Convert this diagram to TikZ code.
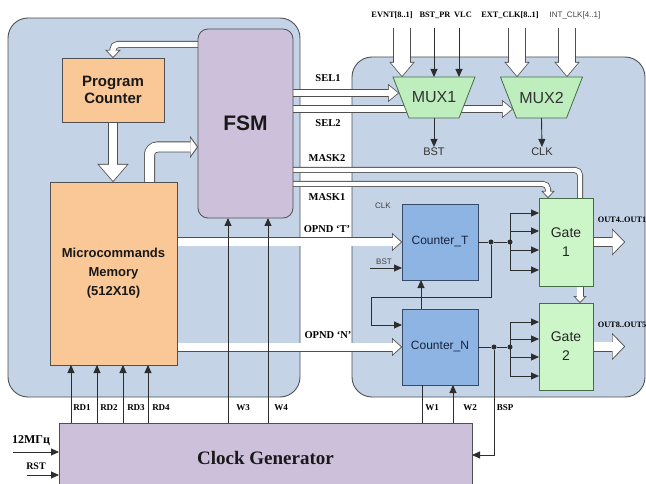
\documentclass[tikz,border=0pt]{standalone}
\usepackage{fontspec}
\setmainfont{Liberation Serif}
\newfontfamily\arialf{Liberation Sans}
\usetikzlibrary{arrows.meta,calc}
\definecolor{panelc}{RGB}{196,211,230}
\definecolor{orangec}{RGB}{250,200,150}
\definecolor{lavc}{RGB}{204,192,218}
\definecolor{bluec}{RGB}{141,180,226}
\definecolor{greenc}{RGB}{204,246,200}
\definecolor{muxc}{RGB}{190,238,190}
\definecolor{edgec}{RGB}{80,80,80}
\definecolor{linec}{RGB}{45,45,45}
\definecolor{cntedge}{RGB}{55,75,105}
\definecolor{gateedge}{RGB}{70,110,70}
\definecolor{cnttext}{RGB}{25,35,65}
\pgfdeclarelayer{bg}
\pgfdeclarelayer{buses}
\pgfdeclarelayer{shapes}
\pgfsetlayers{bg,buses,shapes,main}
\tikzset{
  panel/.style={draw=edgec, line width=0.9pt, fill=panelc, rounded corners=20pt},
  box/.style={draw=edgec, line width=0.8pt, inner sep=0pt, outer sep=0pt, align=center, text=black!90},
  cnt/.style={box, draw=cntedge, fill=bluec, minimum width=76pt, minimum height=76pt, text=cnttext, font=\arialf\fontsize{12}{14}\selectfont},
  gate/.style={box, draw=gateedge, fill=greenc, minimum width=54pt, text=black!85, font=\arialf\fontsize{14}{19}\selectfont},
  muxt/.style={inner sep=0pt, outer sep=0pt, minimum width=82pt, minimum height=41pt, text=black!80, font=\arialf\fontsize{16}{18}\selectfont},
  muxs/.style={draw=gateedge, line width=0.8pt, fill=muxc},
  lbl/.style={inner sep=1pt, font=\bfseries\fontsize{10.5}{12}\selectfont},
  slbl/.style={inner sep=1pt, font=\bfseries\fontsize{9}{10}\selectfont},
  tlbl/.style={inner sep=1pt, font=\bfseries\fontsize{8.3}{10}\selectfont},
  albl/.style={inner sep=1pt, text=black!75, font=\arialf\fontsize{8}{9}\selectfont},
  arr/.style={draw=linec, line width=0.9pt, -{Triangle[width=7pt,length=8pt]}},
  wire/.style={draw=linec, line width=0.9pt},
  dotn/.style={circle, fill=linec, inner sep=0pt, minimum size=5pt},
  bus/.style n args={6}{draw=white, line width=#2, -{Triangle[width=#5,length=#6,line width=0.01pt]}, shorten >=1.25pt,
     preaction={draw=edgec, line width=#1, -{Triangle[width=#3,length=#4,line width=0.01pt]}, shorten >=0pt}},
  busn/.style n args={2}{draw=white, line width=#2, preaction={draw=edgec, line width=#1}},
  busSEL/.style={bus={8pt}{6.4pt}{18pt}{11pt}{14.6pt}{8.9pt}},
  busBig/.style={bus={18pt}{16.4pt}{25pt}{15pt}{21.6pt}{12.9pt}},
  busPC/.style={bus={10pt}{8.4pt}{31pt}{18pt}{27.5pt}{15.9pt}},
  busMF/.style={bus={11pt}{9.4pt}{22pt}{8pt}{17.1pt}{6.2pt}},
  busFP/.style={bus={7pt}{5.4pt}{15pt}{8pt}{11.3pt}{6pt}},
  busMK/.style={bus={6pt}{4.4pt}{13pt}{7pt}{9.3pt}{5pt}},
  busGG/.style={bus={7pt}{5.4pt}{13pt}{7pt}{9.3pt}{5pt}},
  busOut/.style={bus={10pt}{8.4pt}{27pt}{13pt}{23pt}{11.1pt}},
  busOP/.style={bus={9pt}{7.4pt}{18pt}{10pt}{14.4pt}{8pt}},
}
\begin{document}
\begin{tikzpicture}[x=1pt,y=-1pt]
\useasboundingbox (0,0) rectangle (646,484);

% panels
\begin{pgfonlayer}{bg}
\draw[panel] (8,18) rectangle (300,397);
\draw[panel] (352,57) rectangle (645,397);
\end{pgfonlayer}

% main blocks
\node[box, fill=orangec, minimum width=102pt, minimum height=64pt, font=\arialf\bfseries\fontsize{15}{17}\selectfont] (PC) at (113,90) {Program\\Counter};
\node[box, fill=lavc, rounded corners=10pt, minimum width=95pt, minimum height=189pt, font=\arialf\bfseries\fontsize{21}{24}\selectfont] (FSM) at (245.5,123.5) {FSM};
\node[box, fill=orangec, minimum width=127pt, minimum height=183pt, font=\arialf\bfseries\fontsize{13}{19}\selectfont] (MEM) at (113.5,273.5) {Microcommands\\Memory\\(512X16)};
\node[box, fill=lavc, minimum width=413pt, minimum height=70pt, font=\bfseries\fontsize{19}{22}\selectfont] (CG) at (265.5,458) {Clock Generator};
\node[cnt] (CT) at (440,242) {Counter\_T};
\node[cnt] (CN) at (440,347) {Counter\_N};
\node[gate, minimum height=88pt] (G1) at (566,242) {Gate\\1};
\node[gate, minimum height=87pt] (G2) at (566,346.5) {Gate\\2};
\node[muxt] (MUX1) at (434,97.5) {MUX1};
\node[muxt] (MUX2) at (541.5,97.5) {MUX2};

\begin{pgfonlayer}{shapes}
\draw[muxs] (MUX1.north west) -- (MUX1.north east) -- ($(MUX1.south east)+(-16,0)$) -- ($(MUX1.south west)+(16,0)$) -- cycle;
\draw[muxs] (MUX2.north west) -- (MUX2.north east) -- ($(MUX2.south east)+(-16,0)$) -- ($(MUX2.south west)+(16,0)$) -- cycle;
\end{pgfonlayer}

% helper coordinates
\coordinate (ySEL1) at (0,93);
\coordinate (ySEL2) at (0,109);
\coordinate (yMASK2) at (0,170);
\coordinate (yMASK1) at (0,184);
\coordinate (xMASK2) at (580,0);
\coordinate (xMASK1) at (548,0);
\coordinate (yF2P) at (0,44.5);
\coordinate (xM2F) at (149.5,0);
\coordinate (yM2F) at (0,147);
\coordinate (iE) at (402,28);
\coordinate (iB) at (434,28);
\coordinate (iV) at (459,28);
\coordinate (iX) at (517,28);
\coordinate (iI) at (567,28);
\coordinate (o1) at (625,242);
\coordinate (o2) at (625,347);

% buses
\begin{pgfonlayer}{buses}
\draw[busSEL] (FSM.east |- ySEL1) -- ($(MUX1.west |- ySEL1)+(6,0)$);
\draw[busSEL] (FSM.east |- ySEL2) -- ($(MUX2.west |- ySEL2)+(12.5,0)$);
\draw[busn={6pt}{4.4pt}, rounded corners=5pt] (FSM.east |- yMASK2) -| (G1.north -| xMASK2);
\draw[busMK, rounded corners=5pt] (FSM.east |- yMASK1) -| (G1.north -| xMASK1);
\draw[busGG] (G1.south -| xMASK2) -- (G2.north -| xMASK2);
\draw[busPC] (PC.south) -- (MEM.north -| PC.south);
\draw[busFP, rounded corners=5pt] (FSM.west |- yF2P) -| (PC.north);
\draw[busMF, rounded corners=8pt] (MEM.north -| xM2F) |- (FSM.west |- yM2F);
\draw[busOP] (MEM.east |- CT.west) -- (CT.west);
\draw[busOP] (MEM.east |- CN.west) -- (CN.west);
\draw[busOut] (G1.east) -- (o1 |- G1.east);
\draw[busOut] (G2.east) -- (o2 |- G2.east);
\draw[busBig] (iE) -- (iE |- MUX1.north);
\draw[busBig] (iX) -- (iX |- MUX2.north);
\draw[busBig] (iI) -- (iI |- MUX2.north);
\end{pgfonlayer}

% top thin inputs
\draw[arr] (iB) -- (iB |- MUX1.north);
\draw[arr] (iV) -- (iV |- MUX1.north);

% top labels
\node[tlbl] (lEV) at (392,15) {EVNT[8..1]};
\node[tlbl] (lBP) at (435,15) {BST\_PR};
\node[tlbl] (lVL) at (463,15) {VLC};
\node[tlbl] (lEX) at (510,15) {EXT\_CLK[8..1]};
\node[albl] (lIN) at (575,15) {INT\_CLK[4..1]};

% mux outputs
\node[albl, font=\arialf\fontsize{11}{12}\selectfont, text=black!80] (lBST) at (434,152) {BST};
\node[albl, font=\arialf\fontsize{11}{12}\selectfont, text=black!80] (lCLK) at (542,152) {CLK};
\draw[arr] (MUX1.south) -- (lBST.north);
\draw[arr] (MUX2.south) -- (lCLK.north);

% strip labels
\node[lbl] (lS1) at (328,78) {SEL1};
\node[lbl] (lS2) at (328,123) {SEL2};
\node[lbl] (lM2) at (327,158) {MASK2};
\node[lbl] (lM1) at (327,197) {MASK1};
\node[lbl] (lOT) at (327,229) {OPND ‘T’};
\node[lbl] (lON) at (328,335) {OPND ‘N’};

% counters area
\node[albl] (lCK) at (383,206) {CLK};
\node[albl] (lBS) at (384,262) {BST};
\coordinate (bstin) at (370,268);
\draw[arr] (bstin) -- (CT.west |- bstin);

\node[dotn] (d1) at (491,242) {};
\node[dotn] (d2) at (510,242) {};
\node[dotn] (d3) at (494,347) {};
\node[dotn] (d4) at (510,347) {};
\draw[wire] (CT.east) -- (d1) -- (d2);
\draw[wire] (CN.east) -- (d3) -- (d4);

\coordinate (f1a) at (510,213);
\coordinate (f1b) at (510,231);
\coordinate (f1c) at (510,250);
\coordinate (f1d) at (510,270);
\coordinate (f2a) at (510,322);
\coordinate (f2b) at (510,339);
\coordinate (f2c) at (510,357);
\coordinate (f2d) at (510,376);
\draw[wire] (f1a) -- (f1d);
\draw[wire] (f2a) -- (f2d);
\foreach \p in {f1a,f1b,f1c,f1d}{\draw[arr] (\p) -- (G1.west |- \p);}
\foreach \p in {f2a,f2b,f2c,f2d}{\draw[arr] (\p) -- (G2.west |- \p);}

\coordinate (fbA) at (371,297);
\coordinate (yFB) at (0,325);
\draw[arr] (d1) |- (fbA) |- (CN.west |- yFB);
\draw[arr] ($(CN.north)+(-19,0)$) -- ($(CT.south)+(-19,0)$);

\node[tlbl] (lO1) at (622,220) {OUT4..OUT1};
\node[tlbl] (lO2) at (622,325) {OUT8..OUT5};

% clock generator connections
\coordinate (xRD1) at (71,0);
\coordinate (xRD2) at (97,0);
\coordinate (xRD3) at (123,0);
\coordinate (xRD4) at (148,0);
\coordinate (xW3) at (228,0);
\coordinate (xW4) at (268,0);
\coordinate (xW1) at (422,0);
\coordinate (xW2) at (453,0);
\coordinate (yBSP) at (0,455);
\foreach \x in {xRD1,xRD2,xRD3,xRD4}{\draw[arr] (CG.north -| \x) -- (MEM.south -| \x);}
\draw[arr] (CG.north -| xW3) -- (FSM.south -| xW3);
\draw[arr] (CG.north -| xW4) -- (FSM.south -| xW4);
\draw[wire] (CG.north -| xW1) -- (CN.south -| xW1);
\draw[arr] (CG.north -| xW2) -- (CN.south -| xW2);
\draw[arr] (d3) |- (CG.east |- yBSP);

\node[slbl] (lR1) at (82,408) {RD1};
\node[slbl] (lR2) at (109,408) {RD2};
\node[slbl] (lR3) at (136,408) {RD3};
\node[slbl] (lR4) at (161,408) {RD4};
\node[slbl] (lW3) at (243,408) {W3};
\node[slbl] (lW4) at (281,408) {W4};
\node[slbl] (lW1) at (432,408) {W1};
\node[slbl] (lW2) at (470,408) {W2};
\node[slbl] (lBSP) at (505,408) {BSP};

\node[inner sep=1pt, font=\bfseries\fontsize{12}{14}\selectfont] (l12) at (31,441) {12МГц};
\node[inner sep=1pt, font=\bfseries\fontsize{10}{12}\selectfont] (lRST) at (36,466) {RST};
\coordinate (c12) at (13,452);
\coordinate (cRS) at (27,475);
\draw[arr] (c12) -- (CG.west |- c12);
\draw[arr] (cRS) -- (CG.west |- cRS);
\end{tikzpicture}
\end{document}
